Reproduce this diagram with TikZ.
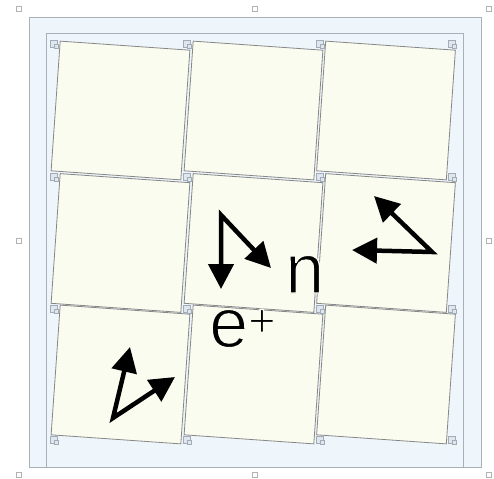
\documentclass[tikz,border=0pt]{standalone}
\usepackage{fontspec}
\setmainfont{Liberation Sans}
\usetikzlibrary{arrows.meta}
\definecolor{tilefill}{RGB}{249,252,238}
\definecolor{tileline}{RGB}{135,135,135}
\definecolor{framefill}{RGB}{239,246,251}
\definecolor{frameline}{RGB}{168,176,184}
\definecolor{markline}{RGB}{160,172,184}
\definecolor{markfill}{RGB}{224,230,236}
\newcommand{\thintext}[1]{\special{pdf:literal direct 2 Tr 1.4 w 0.976 0.988 0.933 RG}#1\special{pdf:literal direct 0 Tr}}
\begin{document}
\begin{tikzpicture}[x=1pt,y=-1pt,
 tile/.style={draw=tileline,fill=tilefill,line width=0.8pt},
 frame/.style={draw=frameline,fill=framefill,line width=1pt},
 handle/.style={draw=gray!60,fill=white,line width=0.6pt,minimum size=5pt,inner sep=0pt},
 cmark/.style={draw=markline,fill=markfill,line width=0.6pt,minimum size=7pt,inner sep=0pt},
 vec/.style={line width=4.5pt,line join=miter,{Triangle[length=25pt,width=25pt]}-{Triangle[length=25pt,width=25pt]}},
 lbl/.style={font=\fontsize{70}{72}\selectfont,inner sep=0pt,anchor=base west}]
\useasboundingbox (0,0) rectangle (494,478);
\fill[white] (0,0) rectangle (494,478);
\draw[frame] (29,18) rectangle (481,467);
\draw[frame] (46,34) rectangle (463,467);
\foreach \j/\cy in {0/110.5,1/243,2/374.5}{
 \foreach \i/\cx in {0/120.5,1/253.5,2/386}{
   \begin{scope}[shift={(\cx,\cy)},rotate=-4]
   \draw[tile] (-65,-65) rectangle (65,65);
   \end{scope}
 }}
\foreach \a/\mx in {0/54,1/187,2/320,3/452}{
 \foreach \b/\my in {0/44,1/177,2/309,3/440}{
   \node[cmark] (m\a\b) at (\mx,\my) {};
   \node[cmark,minimum size=4pt] (mm\a\b) at (\mx+2,\my+2) {};
 }}
\foreach \h/\hx/\hy in {a/19/9,b/255/9,c/489/9,d/19/241,e/489/241,f/19/475,g/255/475,h/489/475}{
 \node[handle] (h\h) at (\hx,\hy) {};
}
% arrows
\coordinate (p0) at (221,215);
\coordinate (p1) at (221,289);
\coordinate (p2) at (271,268);
\draw[vec] (p1) -- (p0) -- (p2);
\coordinate (q0) at (432,252);
\coordinate (q1) at (352,250);
\coordinate (q2) at (374,196);
\draw[vec] (q1) -- (q0) -- (q2);
\coordinate (r0) at (113,418);
\coordinate (r1) at (130,347);
\coordinate (r2) at (175,377);
\draw[vec] (r1) -- (r0) -- (r2);
% labels
\node[lbl] (n) at (285,293) {\thintext{n}};
\node[lbl] (ep) at (209,347) {\thintext{e}\raisebox{10.5pt}{\fontsize{47}{47}\selectfont\thintext{+}}};
\end{tikzpicture}
\end{document}
